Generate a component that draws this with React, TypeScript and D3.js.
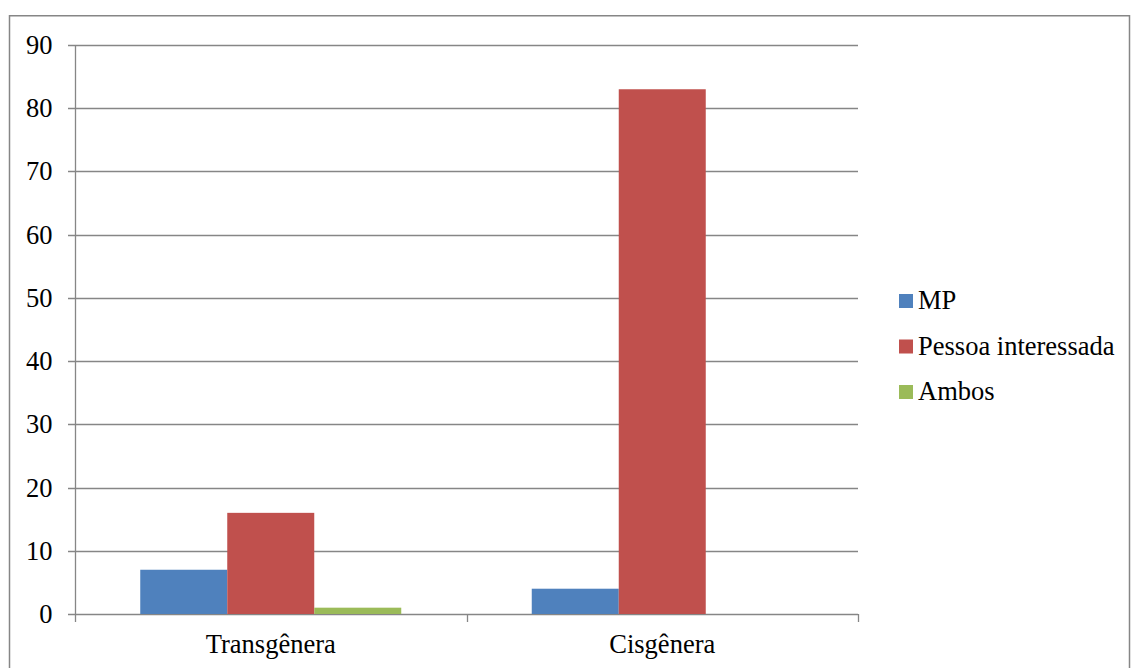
import React from "react";
import * as d3 from "d3";

const categories = ["Transgênera", "Cisgênera"];
const seriesNames = ["MP", "Pessoa interessada", "Ambos"];
const mpValues = [7, 4];
const pessoaValues = [16, 83];
const ambosValues = [1, 0];
const yTicks = [0, 10, 20, 30, 40, 50, 60, 70, 80, 90];
const colors = ["#4F81BD", "#C0504D", "#9BBB59"];

export default function App() {
  const W = 1131, H = 668;
  const left = 75, right = 858, top = 45, bottom = 614;
  const x = d3.scaleBand<string>().domain(categories).range([left, right]).paddingInner(0).paddingOuter(0);
  const y = d3.scaleLinear().domain([0, 90]).range([bottom, top]);
  const groupPad = 1 / 3;
  const inner = d3.scaleBand<string>().domain(seriesNames).range([0, x.bandwidth() * (1 - groupPad)]);
  const seriesValues = [mpValues, pessoaValues, ambosValues];
  const textStyle: React.CSSProperties = { fontFamily: `"Liberation Serif"`, fontSize: "26.5px" };
  const grid = "#868686";

  return (
    <svg width={W} height={H} style={{ position: "absolute", left: 0, top: 0, display: "block", background: "#fff" }}>
      <rect x={9.5} y={15.75} width={1120} height={700} fill="none" stroke="#868686" strokeWidth={1.5} />
      {yTicks.map((t) => (
        <g key={t}>
          <line x1={68} x2={right} y1={Math.round(y(t)) + 0.5} y2={Math.round(y(t)) + 0.5} stroke={grid} strokeWidth={1.3} />
          <text x={52.5} y={y(t) + 9} textAnchor="end" style={textStyle} fill="#000">{t}</text>
        </g>
      ))}
      <line x1={left + 0.5} x2={left + 0.5} y1={top} y2={bottom} stroke={grid} strokeWidth={1.3} />
      {categories.map((c, ci) => {
        const x0 = (x(c) as number) + (x.bandwidth() * groupPad) / 2;
        return (
          <g key={c}>
            {seriesNames.map((s, si) => {
              const v = seriesValues[si][ci];
              if (v <= 0) return null;
              return (
                <rect key={s} x={x0 + (inner(s) as number)} y={y(v)} width={inner.bandwidth()} height={y(0) - y(v)} fill={colors[si]} />
              );
            })}
            <text x={(x(c) as number) + x.bandwidth() / 2} y={653} textAnchor="middle" style={textStyle} fill="#000">{c}</text>
          </g>
        );
      })}
      {[...categories.map((c) => x(c) as number), right].map((tx, i) => (
        <line key={i} x1={Math.round(tx) + 0.5} x2={Math.round(tx) + 0.5} y1={bottom} y2={bottom + 8} stroke={grid} strokeWidth={1.3} />
      ))}
      {seriesNames.map((s, i) => {
        const by = 309 + i * 45.5;
        return (
          <g key={s}>
            <rect x={899} y={by - 15} width={14} height={14} fill={colors[i]} />
            <text x={918} y={by} style={textStyle} fill="#000">{s}</text>
          </g>
        );
      })}
    </svg>
  );
}
